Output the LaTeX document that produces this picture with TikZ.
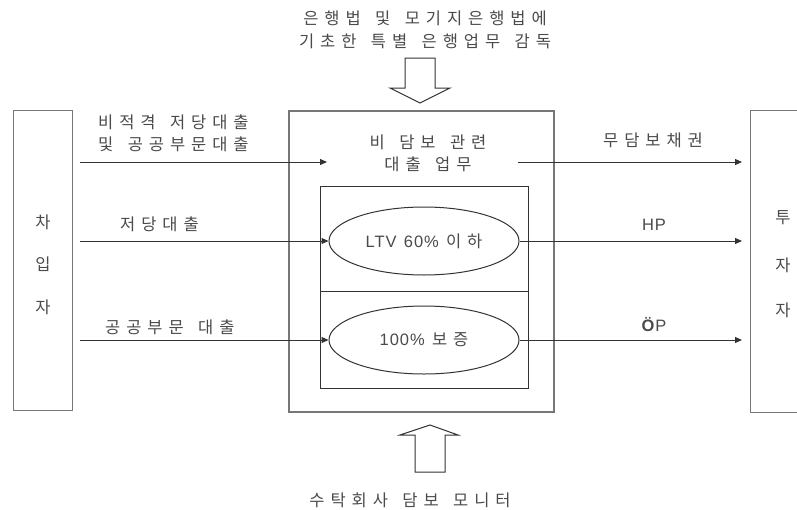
\documentclass[tikz,border=0pt]{standalone}
\usepackage{fontspec}
\setmainfont{Noto Sans CJK KR}
\newfontfamily\kr[LetterSpace=36,WordSpace=1.5]{Noto Sans CJK KR}
\newfontfamily\lat[LetterSpace=6,WordSpace=1.3]{Liberation Sans}
\usetikzlibrary{arrows.meta,shapes.geometric}
\definecolor{txt}{HTML}{4A4A4A}
\definecolor{ln}{HTML}{333333}
\definecolor{boxc}{HTML}{777777}
\tikzset{
  lbl/.style={text=txt,font=\kr\fontsize{16.5}{20}\selectfont,inner sep=0pt,align=center},
  sidebox/.style={draw=boxc,line width=1.4pt},
  flow/.style={draw=ln,line width=1pt,-{Triangle[length=7pt,width=6pt]}},
  oval/.style={ellipse,draw=ln,line width=1pt,minimum width=190pt,minimum height=68pt,inner sep=0pt,text=txt,font=\kr\fontsize{16.5}{20}\selectfont},
  hollow/.style={draw=ln,line width=1pt,fill=white}
}
\begin{document}
\begin{tikzpicture}[x=1pt,y=-1pt]
\useasboundingbox (0,0) rectangle (797,509);
% side boxes
\node[sidebox,minimum width=59pt,minimum height=300pt,anchor=north west,inner sep=0pt] (borrow) at (13,110) {};
\node[sidebox,minimum width=60pt,minimum height=302pt,anchor=north west,inner sep=0pt] (invest) at (750,110) {};
\node[lbl] at (43,222) {차};
\node[lbl] at (43,264) {입};
\node[lbl] at (43,307) {자};
\node[lbl] at (783,218) {투};
\node[lbl] at (783,265) {자};
\node[lbl] at (783,310) {자};
% central boxes
\node[draw=boxc,line width=1.6pt,minimum width=265pt,minimum height=301pt,anchor=north west,inner sep=0pt] (outer) at (288,110) {};
\node[draw=ln,line width=0.9pt,minimum width=208pt,minimum height=202pt,anchor=north west,inner sep=0pt] (inner) at (320,186) {};
\coordinate (divl) at (320,291);
\coordinate (divr) at (528,291);
\draw[ln,line width=0.9pt] (divl) -- (divr);
\node[oval] (e1) at (424,241) {{\lat LTV 60\% }이하};
\node[oval] (e2) at (424,340) {{\lat 100\% }보증};
\node[lbl,align=center] (nonsec) at (428,153) {비 담보 관련\\[2pt]대출 업무};
% left arrows
\coordinate (a1s) at (80,162);
\coordinate (a1e) at (327,162);
\draw[flow] (a1s) -- (a1e);
\coordinate (a2s) at (80,241);
\draw[flow] (a2s) -- (e1.west);
\coordinate (a3s) at (80,340);
\draw[flow] (a3s) -- (e2.west);
% right arrows
\coordinate (b1s) at (518,162);
\coordinate (b1e) at (742,162);
\draw[flow] (b1s) -- (b1e);
\coordinate (b2e) at (742,241);
\draw[flow] (e1.east) -- (b2e);
\coordinate (b3e) at (742,340);
\draw[flow] (e2.east) -- (b3e);
% labels on arrows
\node[lbl,align=left,anchor=west] at (98,133) {비적격 저당대출\\[2pt]및 공공부문대출};
\node[lbl,anchor=west] at (120,224) {저당대출};
\node[lbl,anchor=west] at (105,327) {공공부문 대출};
\node[lbl] at (653,140) {무담보채권};
\node[lbl] at (654,225) {\lat HP};
\node[lbl] at (654,325) {\lat\textbf{Ö}P};
% top
\node[lbl] (toptxt) at (425,30) {은행법 및 모기지은행법에\\[3pt]기초한 특별 은행업무 감독};
\draw[hollow] (405,58) -- (435,58) -- (435,88) -- (450,88) -- (420,103) -- (390,88) -- (405,88) -- cycle;
% bottom
\draw[hollow] (415,472) -- (445,472) -- (445,435) -- (458,435) -- (430,425) -- (400,435) -- (415,435) -- cycle;
\node[lbl] (bottxt) at (410,500) {수탁회사 담보 모니터};
\end{tikzpicture}
\end{document}
